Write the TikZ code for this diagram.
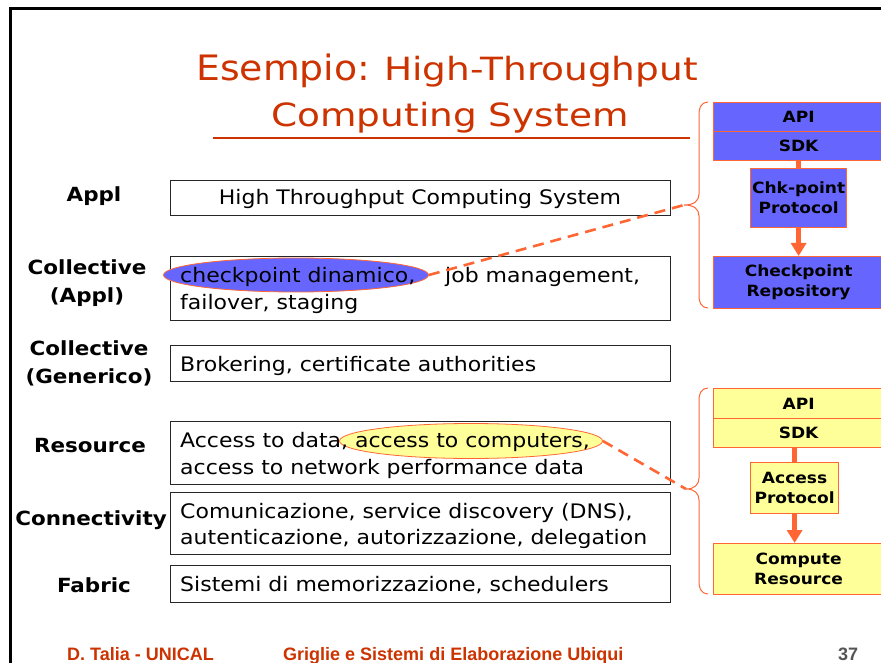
\documentclass[tikz,border=0pt]{standalone}
\usepackage{fontspec}
\setmainfont{DejaVu Sans}[FakeStretch=1.1]
\newfontfamily\titlefontA{DejaVu Sans}[FakeStretch=1.08]
\newfontfamily\titlefontB{DejaVu Sans}[FakeStretch=1.17]
\newfontfamily\footfont{Liberation Sans}
\usetikzlibrary{shapes.geometric,arrows.meta}

\definecolor{titlered}{RGB}{204,51,0}
\definecolor{lineorange}{RGB}{255,102,51}
\definecolor{stackblue}{RGB}{102,102,255}
\definecolor{stackyellow}{RGB}{255,255,153}
\definecolor{pagegray}{RGB}{85,85,85}

\tikzset{
  layerbox/.style={draw=black!85, line width=1.1pt, anchor=north west, inner sep=0pt},
  bodytext/.style={anchor=base west, inner sep=0pt, font=\fontsize{20}{24}\selectfont},
  layerlabel/.style={align=center, inner sep=0pt, font=\fontsize{19.5}{28}\selectfont\bfseries},
  stackbox/.style={draw=lineorange, line width=1.2pt, anchor=north west, inner sep=0pt,
    align=center, font=\fontsize{15.5}{20}\selectfont\bfseries},
  hilite/.style={ellipse, draw=lineorange, line width=0.8pt, inner sep=0pt},
  linkline/.style={draw=lineorange, line width=2.6pt, dash pattern=on 11pt off 7pt},
  bracepath/.style={draw=lineorange, line width=1pt},
  flowbar/.style={draw=lineorange, line width=5pt},
  flowarrow/.style={draw=lineorange, line width=5pt, -{Triangle[width=15pt,length=13pt]}},
  foottext/.style={anchor=base west, inner sep=0pt, font=\footfont\fontsize{18}{20}\selectfont\bfseries},
}

\begin{document}
\begin{tikzpicture}[x=1pt, y=-1pt]
\useasboundingbox (0,0) rectangle (881,663);

% slide frame
\draw[line width=3pt, black] (10,680) -- (10,8.5) -- (890,8.5);

% title
\node[anchor=base west, inner sep=0pt, text=titlered, font=\titlefontA\fontsize{35}{40}\selectfont] (t1) at (196,81) {Esempio:};
\node[anchor=base west, inner sep=0pt, text=titlered, font=\titlefontB\fontsize{32}{40}\selectfont] (t2) at (384,81) {High-Throughput};
\node[anchor=base, inner sep=0pt, text=titlered, font=\titlefontB\fontsize{32}{40}\selectfont] (t3) at (450,127) {Computing System};
\draw[titlered, line width=1.6pt] (213,138) -- (690,138);

% layer labels
\node[layerlabel] (lappl) at (94,196) {Appl};
\node[layerlabel] (lcolla) at (87,283) {Collective\\(Appl)};
\node[layerlabel] (lcollg) at (89,363) {Collective\\(Generico)};
\node[layerlabel] (lres) at (90,446) {Resource};
\node[layerlabel] (lconn) at (91,520) {Connectivity};
\node[layerlabel] (lfab) at (94,585) {Fabric};

% layer boxes
\node[layerbox, minimum width=500pt, minimum height=35pt] (bappl) at (170,180) {};
\node[layerbox, minimum width=500pt, minimum height=64pt] (bcolla) at (170,256) {};
\node[layerbox, minimum width=500pt, minimum height=36pt] (bcollg) at (170,345) {};
\node[layerbox, minimum width=500pt, minimum height=63pt] (bres) at (170,421) {};
\node[layerbox, minimum width=500pt, minimum height=62pt] (bconn) at (170,492) {};
\node[layerbox, minimum width=500pt, minimum height=37pt] (bfab) at (170,565) {};

% highlighted items
\node[hilite, fill=stackblue, minimum width=265pt, minimum height=34pt] (echk) at (296,275) {};
\node[hilite, fill=stackyellow, minimum width=263pt, minimum height=35pt] (eacc) at (471,441) {};

% box texts
\node[anchor=base, inner sep=0pt, font=\fontsize{20}{24}\selectfont] (tappl) at (420,205) {High Throughput Computing System};
\node[bodytext] (tca1) at (180,282) {checkpoint dinamico,};
\node[bodytext] (tca2) at (445,282) {job management,};
\node[bodytext] (tca3) at (180,309) {failover, staging};
\node[bodytext] (tcg) at (180,371) {Brokering, certificate authorities};
\node[bodytext] (tr1) at (180,447) {Access to data, access to computers,};
\node[bodytext] (tr2) at (180,474) {access to network performance data};
\node[bodytext] (tc1) at (180,518) {Comunicazione, service discovery (DNS),};
\node[bodytext] (tc2) at (180,544) {autenticazione, autorizzazione, delegation};
\node[bodytext] (tf) at (180,591) {Sistemi di memorizzazione, schedulers};

% braces
\coordinate (btip1) at (684,205);
\coordinate (btip2) at (686,489);
\draw[bracepath] (708,102) .. controls (700,103) and (699,108) .. (699,116)
  -- (699,194) .. controls (699,201) and (694,205) .. (btip1)
  .. controls (694,205) and (699,209) .. (699,216)
  -- (699,294) .. controls (699,302) and (700,307) .. (708,308);
\draw[bracepath] (708,388) .. controls (700,389) and (699,394) .. (699,402)
  -- (699,478) .. controls (699,485) and (694,489) .. (btip2)
  .. controls (694,489) and (699,493) .. (699,500)
  -- (699,580) .. controls (699,588) and (700,593) .. (708,594);

% dashed links
\draw[linkline] (echk.east) -- (btip1);
\draw[linkline] (eacc.east) -- (btip2);

% checkpoint stack
\node[stackbox, fill=stackblue, minimum width=170pt, minimum height=29pt] (capi) at (713,102) {API};
\node[stackbox, fill=stackblue, minimum width=170pt, minimum height=29pt] (csdk) at (713,131) {SDK};
\node[stackbox, fill=stackblue, minimum width=96pt, minimum height=59pt] (cprot) at (750,168) {Chk-point\\Protocol};
\node[stackbox, fill=stackblue, minimum width=170pt, minimum height=52pt] (crepo) at (713,256) {Checkpoint\\Repository};
\draw[flowbar] (csdk.south -| cprot.north) -- (cprot.north);
\draw[flowarrow] (cprot.south) -- (cprot.south |- crepo.north);

% compute stack
\node[stackbox, fill=stackyellow, minimum width=170pt, minimum height=30pt] (rapi) at (713,388) {API};
\node[stackbox, fill=stackyellow, minimum width=170pt, minimum height=29pt] (rsdk) at (713,418) {SDK};
\node[stackbox, fill=stackyellow, minimum width=88pt, minimum height=51pt] (rprot) at (750,462) {Access\\Protocol};
\node[stackbox, fill=stackyellow, minimum width=170pt, minimum height=51pt] (rres) at (713,543) {Compute\\Resource};
\draw[flowbar] (rsdk.south -| rprot.north) -- (rprot.north);
\draw[flowarrow] (rprot.south) -- (rprot.south |- rres.north);

% footer
\node[foottext, text=titlered] (fauth) at (67,660) {D. Talia - UNICAL};
\node[foottext, text=titlered] (fcourse) at (283,660) {Griglie e Sistemi di Elaborazione Ubiqui};
\node[foottext, text=pagegray] (fpage) at (838,660) {37};
\end{tikzpicture}
\end{document}
